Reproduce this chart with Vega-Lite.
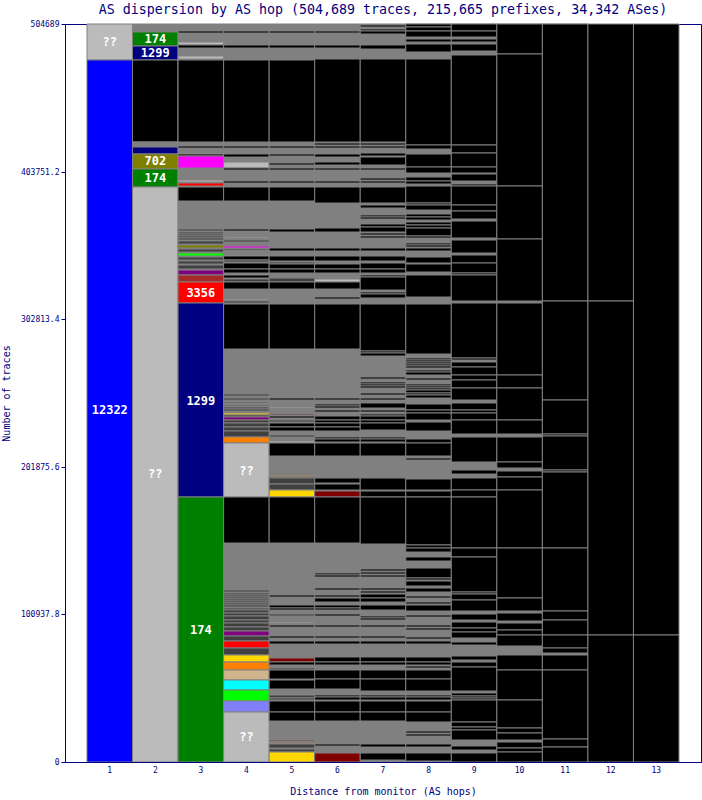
{"$schema":"https://vega.github.io/schema/vega-lite/v6.json","width":636,"height":738,"autosize":"none","padding":{"left":65,"top":24,"right":1,"bottom":38},"background":"white",
"title":{"text":"AS dispersion by AS hop (504,689 traces, 215,665 prefixes, 34,342 ASes)","font":"DejaVu Sans Mono","fontSize":13.3,"fontWeight":"normal","color":"#000080","anchor":"middle","offset":4},
"view":{"stroke":"#000080","strokeWidth":1},
"datasets":{"cells":[
{"hop":1,"group":"??","start":480168,"end":504689},{"hop":1,"group":"12322","start":0,"end":480168},
{"hop":2,"group":"other","start":499320,"end":504689},{"hop":2,"group":"174","start":489744,"end":499320},{"hop":2,"group":"1299","start":480168,"end":489744},{"hop":2,"group":"black","start":424080,"end":480168},{"hop":2,"group":"other","start":420660,"end":424080},{"hop":2,"group":"1299","start":415872,"end":420660},{"hop":2,"group":"702","start":405612,"end":415872},{"hop":2,"group":"174","start":393300,"end":405612},{"hop":2,"group":"??","start":0,"end":393300},
{"hop":3,"group":"other","start":0,"end":504689},{"hop":4,"group":"other","start":0,"end":504689},{"hop":5,"group":"other","start":0,"end":504689},{"hop":6,"group":"other","start":0,"end":504689},{"hop":7,"group":"other","start":0,"end":504689},{"hop":8,"group":"other","start":0,"end":504689},{"hop":9,"group":"other","start":0,"end":504689},{"hop":10,"group":"other","start":0,"end":504689},{"hop":11,"group":"other","start":0,"end":504689},
{"hop":3,"group":"black","start":498636,"end":500004},{"hop":3,"group":"??","start":490428,"end":492480},{"hop":3,"group":"black","start":488376,"end":490428},{"hop":3,"group":"??","start":480852,"end":482904},{"hop":3,"group":"black","start":424080,"end":480168},{"hop":3,"group":"black","start":419976,"end":421344},{"hop":3,"group":"??","start":415872,"end":416556},{"hop":3,"group":"black","start":414504,"end":415872},{"hop":3,"group":"magenta","start":406296,"end":414504},{"hop":3,"group":"??","start":396720,"end":398088},{"hop":3,"group":"3356","start":393984,"end":396036},{"hop":3,"group":"black","start":383724,"end":393300},
{"hop":3,"group":"dark","start":363204,"end":364572},{"hop":3,"group":"dark","start":361152,"end":362520},{"hop":3,"group":"dark","start":359784,"end":361152},{"hop":3,"group":"dark","start":358416,"end":359784},{"hop":3,"group":"dark","start":357048,"end":358416},{"hop":3,"group":"dark","start":354312,"end":356364},{"hop":3,"group":"702","start":351576,"end":353628},{"hop":3,"group":"dark","start":348840,"end":350892},{"hop":3,"group":"lime","start":346104,"end":348156},{"hop":3,"group":"dark","start":343368,"end":345420},{"hop":3,"group":"dark","start":340632,"end":342684},{"hop":3,"group":"dark","start":337212,"end":339948},{"hop":3,"group":"purple","start":333108,"end":336528},{"hop":3,"group":"brown","start":328320,"end":333108},{"hop":3,"group":"3356","start":313956,"end":328320},{"hop":3,"group":"1299","start":181260,"end":313956},{"hop":3,"group":"174","start":0,"end":181260},
{"hop":4,"group":"black","start":498636,"end":500004},{"hop":4,"group":"black","start":488376,"end":490428},{"hop":4,"group":"black","start":424080,"end":480168},{"hop":4,"group":"black","start":419976,"end":421344},{"hop":4,"group":"black","start":413820,"end":415872},{"hop":4,"group":"??","start":406296,"end":410400},{"hop":4,"group":"black","start":404928,"end":406296},{"hop":4,"group":"black","start":396036,"end":397404},{"hop":4,"group":"black","start":383724,"end":393300},
{"hop":4,"group":"black","start":363204,"end":364572},{"hop":4,"group":"??","start":358416,"end":359100},{"hop":4,"group":"dark","start":355680,"end":357048},{"hop":4,"group":"magenta","start":351576,"end":352944},{"hop":4,"group":"black","start":350208,"end":350892},{"hop":4,"group":"??","start":346104,"end":346788},{"hop":4,"group":"black","start":343368,"end":346104},{"hop":4,"group":"dark","start":342000,"end":343368},{"hop":4,"group":"black","start":337212,"end":341316},{"hop":4,"group":"black","start":334476,"end":337212},{"hop":4,"group":"??","start":333108,"end":333792},{"hop":4,"group":"black","start":331056,"end":333108},{"hop":4,"group":"dark","start":328320,"end":330372},{"hop":4,"group":"black","start":323532,"end":328320},{"hop":4,"group":"??","start":316008,"end":316692},{"hop":4,"group":"dark","start":313956,"end":315324},{"hop":4,"group":"black","start":282492,"end":313272},
{"hop":4,"group":"dark","start":250344,"end":251712},{"hop":4,"group":"dark","start":247608,"end":248976},{"hop":4,"group":"dark","start":245556,"end":246240},{"hop":4,"group":"dark","start":243504,"end":244188},{"hop":4,"group":"dark","start":241452,"end":242820},{"hop":4,"group":"dark","start":240084,"end":241452},{"hop":4,"group":"gold","start":237348,"end":238716},{"hop":4,"group":"dark","start":235980,"end":237348},{"hop":4,"group":"purple","start":233928,"end":235980},{"hop":4,"group":"dark","start":231876,"end":233928},{"hop":4,"group":"dark","start":229140,"end":231876},{"hop":4,"group":"dark","start":226404,"end":229140},{"hop":4,"group":"dark","start":222300,"end":226404},{"hop":4,"group":"orange","start":218196,"end":222300},{"hop":4,"group":"??","start":181260,"end":218196},{"hop":4,"group":"black","start":149796,"end":181260},
{"hop":4,"group":"dark","start":116280,"end":117648},{"hop":4,"group":"dark","start":114228,"end":115596},{"hop":4,"group":"dark","start":112860,"end":114228},{"hop":4,"group":"dark","start":111492,"end":112860},{"hop":4,"group":"dark","start":110124,"end":111492},{"hop":4,"group":"dark","start":108756,"end":110124},{"hop":4,"group":"dark","start":107388,"end":108756},{"hop":4,"group":"dark","start":106020,"end":107388},{"hop":4,"group":"dark","start":103968,"end":105336},{"hop":4,"group":"dark","start":101916,"end":103968},{"hop":4,"group":"dark","start":99864,"end":101916},{"hop":4,"group":"dark","start":97128,"end":99864},{"hop":4,"group":"dark","start":95076,"end":97128},{"hop":4,"group":"dark","start":92340,"end":95076},{"hop":4,"group":"dark","start":89604,"end":92340},{"hop":4,"group":"purple","start":86184,"end":89604},{"hop":4,"group":"dark","start":82764,"end":86184},{"hop":4,"group":"3356","start":77976,"end":82764},{"hop":4,"group":"dark","start":73188,"end":77976},{"hop":4,"group":"gold","start":68400,"end":73188},{"hop":4,"group":"orange","start":62928,"end":68400},{"hop":4,"group":"tan","start":56088,"end":62928},{"hop":4,"group":"cyan","start":49248,"end":56088},{"hop":4,"group":"lime","start":41724,"end":49248},{"hop":4,"group":"periwinkle","start":34200,"end":41724},{"hop":4,"group":"??","start":0,"end":34200},
{"hop":5,"group":"black","start":498636,"end":500004},{"hop":5,"group":"black","start":488376,"end":490428},{"hop":5,"group":"black","start":424080,"end":480168},{"hop":5,"group":"black","start":419976,"end":421344},{"hop":5,"group":"black","start":414504,"end":415872},{"hop":5,"group":"black","start":408348,"end":409716},{"hop":5,"group":"black","start":404928,"end":406296},{"hop":5,"group":"black","start":396036,"end":397404},{"hop":5,"group":"black","start":383724,"end":393300},
{"hop":5,"group":"black","start":362520,"end":364572},{"hop":5,"group":"black","start":349524,"end":351576},{"hop":5,"group":"black","start":342684,"end":346104},{"hop":5,"group":"dark","start":340632,"end":342000},{"hop":5,"group":"black","start":337212,"end":340632},{"hop":5,"group":"black","start":334476,"end":337212},{"hop":5,"group":"dark","start":328320,"end":331056},{"hop":5,"group":"black","start":323532,"end":328320},{"hop":5,"group":"black","start":282492,"end":313272},
{"hop":5,"group":"black","start":247608,"end":248976},{"hop":5,"group":"??","start":242136,"end":242820},{"hop":5,"group":"maroon","start":237348,"end":238032},{"hop":5,"group":"black","start":235296,"end":236664},{"hop":5,"group":"dark","start":232560,"end":233928},{"hop":5,"group":"black","start":229140,"end":231876},{"hop":5,"group":"black","start":226404,"end":229140},{"hop":5,"group":"dark","start":222300,"end":223668},{"hop":5,"group":"??","start":218196,"end":219564},{"hop":5,"group":"black","start":209304,"end":218196},{"hop":5,"group":"orange","start":195624,"end":196308},{"hop":5,"group":"dark","start":194256,"end":194940},{"hop":5,"group":"dark","start":190152,"end":194256},{"hop":5,"group":"dark","start":186048,"end":190152},{"hop":5,"group":"gold","start":181260,"end":186048},{"hop":5,"group":"black","start":149796,"end":181260},
{"hop":5,"group":"black","start":112860,"end":114228},{"hop":5,"group":"black","start":105336,"end":107388},{"hop":5,"group":"black","start":103968,"end":105336},{"hop":5,"group":"dark","start":99864,"end":101232},{"hop":5,"group":"??","start":95076,"end":95760},{"hop":5,"group":"black","start":92340,"end":93708},{"hop":5,"group":"black","start":84816,"end":86184},{"hop":5,"group":"black","start":80712,"end":82764},{"hop":5,"group":"maroon","start":68400,"end":71136},{"hop":5,"group":"black","start":66348,"end":68400},{"hop":5,"group":"dark","start":62928,"end":64296},{"hop":5,"group":"black","start":56772,"end":62928},{"hop":5,"group":"black","start":49932,"end":56088},{"hop":5,"group":"??","start":45828,"end":46512},{"hop":5,"group":"dark","start":43776,"end":45828},{"hop":5,"group":"dark","start":42408,"end":43776},{"hop":5,"group":"black","start":34200,"end":41724},{"hop":5,"group":"black","start":28044,"end":34200},{"hop":5,"group":"maroon","start":14364,"end":15048},{"hop":5,"group":"orange","start":12312,"end":12996},{"hop":5,"group":"dark","start":9576,"end":12312},{"hop":5,"group":"dark","start":6840,"end":8892},{"hop":5,"group":"gold","start":0,"end":6840},
{"hop":6,"group":"black","start":498636,"end":500004},{"hop":6,"group":"black","start":488376,"end":490428},{"hop":6,"group":"black","start":424080,"end":480852},{"hop":6,"group":"black","start":422028,"end":423396},{"hop":6,"group":"black","start":419976,"end":421344},{"hop":6,"group":"black","start":413820,"end":415872},{"hop":6,"group":"black","start":408348,"end":410400},{"hop":6,"group":"black","start":404928,"end":406296},{"hop":6,"group":"black","start":396036,"end":397404},{"hop":6,"group":"black","start":382356,"end":393300},
{"hop":6,"group":"black","start":362520,"end":365256},{"hop":6,"group":"black","start":349524,"end":351576},{"hop":6,"group":"black","start":342684,"end":346104},{"hop":6,"group":"black","start":337212,"end":340632},{"hop":6,"group":"black","start":334476,"end":337212},{"hop":6,"group":"??","start":328320,"end":330372},{"hop":6,"group":"black","start":323532,"end":328320},{"hop":6,"group":"black","start":316692,"end":318060},{"hop":6,"group":"black","start":282492,"end":313272},
{"hop":6,"group":"black","start":247608,"end":248976},{"hop":6,"group":"black","start":243504,"end":244872},{"hop":6,"group":"black","start":242136,"end":243504},{"hop":6,"group":"black","start":239400,"end":240768},{"hop":6,"group":"black","start":233928,"end":236664},{"hop":6,"group":"black","start":231876,"end":233928},{"hop":6,"group":"black","start":229140,"end":231876},{"hop":6,"group":"black","start":226404,"end":229140},{"hop":6,"group":"black","start":220932,"end":222300},{"hop":6,"group":"black","start":218880,"end":220932},{"hop":6,"group":"black","start":209304,"end":218196},{"hop":6,"group":"black","start":190836,"end":194256},{"hop":6,"group":"black","start":186048,"end":190152},{"hop":6,"group":"maroon","start":181260,"end":185364},{"hop":6,"group":"black","start":149796,"end":181260},
{"hop":6,"group":"black","start":127908,"end":129276},{"hop":6,"group":"black","start":126540,"end":127908},{"hop":6,"group":"black","start":117648,"end":119016},{"hop":6,"group":"black","start":112860,"end":114228},{"hop":6,"group":"black","start":109440,"end":112176},{"hop":6,"group":"black","start":105336,"end":107388},{"hop":6,"group":"black","start":103968,"end":105336},{"hop":6,"group":"black","start":99864,"end":101232},{"hop":6,"group":"black","start":92340,"end":93708},{"hop":6,"group":"black","start":84816,"end":86184},{"hop":6,"group":"black","start":80712,"end":82764},{"hop":6,"group":"black","start":68400,"end":71820},{"hop":6,"group":"black","start":66348,"end":68400},{"hop":6,"group":"black","start":56772,"end":62928},{"hop":6,"group":"black","start":49932,"end":56772},{"hop":6,"group":"black","start":44460,"end":45828},{"hop":6,"group":"black","start":42408,"end":44460},{"hop":6,"group":"black","start":34200,"end":41724},{"hop":6,"group":"black","start":28044,"end":34200},{"hop":6,"group":"black","start":10944,"end":12312},{"hop":6,"group":"maroon","start":0,"end":6156},
{"hop":7,"group":"black","start":502740,"end":504108},{"hop":7,"group":"black","start":500004,"end":501372},{"hop":7,"group":"black","start":497952,"end":500004},{"hop":7,"group":"black","start":487692,"end":490428},{"hop":7,"group":"black","start":424080,"end":480852},{"hop":7,"group":"black","start":422028,"end":423396},{"hop":7,"group":"black","start":419976,"end":421344},{"hop":7,"group":"black","start":414504,"end":416556},{"hop":7,"group":"black","start":408348,"end":413820},{"hop":7,"group":"black","start":404928,"end":406296},{"hop":7,"group":"black","start":398088,"end":399456},{"hop":7,"group":"black","start":396036,"end":397404},{"hop":7,"group":"black","start":382356,"end":393300},
{"hop":7,"group":"black","start":378936,"end":380988},{"hop":7,"group":"black","start":372780,"end":374148},{"hop":7,"group":"black","start":371412,"end":372780},{"hop":7,"group":"black","start":365940,"end":367992},{"hop":7,"group":"black","start":362520,"end":365940},{"hop":7,"group":"black","start":360468,"end":361836},{"hop":7,"group":"black","start":358416,"end":359784},{"hop":7,"group":"black","start":349524,"end":351576},{"hop":7,"group":"black","start":342684,"end":346104},{"hop":7,"group":"black","start":337212,"end":341316},{"hop":7,"group":"black","start":334476,"end":337212},{"hop":7,"group":"black","start":331740,"end":333108},{"hop":7,"group":"black","start":322848,"end":331740},{"hop":7,"group":"black","start":320112,"end":321480},{"hop":7,"group":"black","start":317376,"end":320112},{"hop":7,"group":"black","start":281124,"end":313272},
{"hop":7,"group":"black","start":279756,"end":281124},{"hop":7,"group":"black","start":277704,"end":279756},{"hop":7,"group":"black","start":261972,"end":263340},{"hop":7,"group":"black","start":258552,"end":259920},{"hop":7,"group":"black","start":257184,"end":258552},{"hop":7,"group":"black","start":255816,"end":257184},{"hop":7,"group":"black","start":251028,"end":252396},{"hop":7,"group":"black","start":247608,"end":248976},{"hop":7,"group":"black","start":242136,"end":245556},{"hop":7,"group":"black","start":239400,"end":240768},{"hop":7,"group":"black","start":236664,"end":238032},{"hop":7,"group":"black","start":233928,"end":236664},{"hop":7,"group":"black","start":231876,"end":233928},{"hop":7,"group":"black","start":227088,"end":231876},{"hop":7,"group":"black","start":220932,"end":222300},{"hop":7,"group":"black","start":218880,"end":220932},{"hop":7,"group":"black","start":209304,"end":218196},{"hop":7,"group":"black","start":186048,"end":194256},{"hop":7,"group":"black","start":181260,"end":185364},{"hop":7,"group":"black","start":149112,"end":181260},
{"hop":7,"group":"black","start":130644,"end":132012},{"hop":7,"group":"black","start":128592,"end":129960},{"hop":7,"group":"black","start":126540,"end":127908},{"hop":7,"group":"black","start":117648,"end":119016},{"hop":7,"group":"black","start":115596,"end":116964},{"hop":7,"group":"black","start":112176,"end":114912},{"hop":7,"group":"black","start":109440,"end":112176},{"hop":7,"group":"black","start":103968,"end":107388},{"hop":7,"group":"black","start":98496,"end":99864},{"hop":7,"group":"black","start":97128,"end":98496},{"hop":7,"group":"black","start":92340,"end":93708},{"hop":7,"group":"black","start":84816,"end":86184},{"hop":7,"group":"black","start":80712,"end":82764},{"hop":7,"group":"black","start":68400,"end":71820},{"hop":7,"group":"black","start":66348,"end":68400},{"hop":7,"group":"black","start":56772,"end":62928},{"hop":7,"group":"black","start":48564,"end":56772},{"hop":7,"group":"black","start":44460,"end":45828},{"hop":7,"group":"black","start":42408,"end":44460},{"hop":7,"group":"black","start":34200,"end":41724},{"hop":7,"group":"black","start":28044,"end":34200},{"hop":7,"group":"black","start":10260,"end":12312},{"hop":7,"group":"black","start":1368,"end":6156},
{"hop":8,"group":"black","start":502740,"end":504689},{"hop":8,"group":"black","start":500004,"end":502740},{"hop":8,"group":"black","start":495900,"end":500004},{"hop":8,"group":"black","start":492480,"end":494532},{"hop":8,"group":"black","start":485640,"end":491112},{"hop":8,"group":"black","start":422028,"end":480852},{"hop":8,"group":"black","start":419292,"end":422028},{"hop":8,"group":"black","start":406980,"end":415872},{"hop":8,"group":"black","start":402876,"end":406980},{"hop":8,"group":"black","start":397404,"end":400140},{"hop":8,"group":"black","start":395352,"end":397404},{"hop":8,"group":"black","start":382356,"end":393984},{"hop":8,"group":"black","start":380988,"end":382356},{"hop":8,"group":"black","start":377568,"end":380988},{"hop":8,"group":"black","start":372780,"end":374832},{"hop":8,"group":"black","start":370728,"end":372780},{"hop":8,"group":"black","start":367308,"end":369360},{"hop":8,"group":"black","start":365256,"end":367308},{"hop":8,"group":"black","start":359784,"end":365256},{"hop":8,"group":"black","start":358416,"end":359784},{"hop":8,"group":"black","start":353628,"end":354996},{"hop":8,"group":"black","start":352260,"end":353628},{"hop":8,"group":"black","start":349524,"end":351576},{"hop":8,"group":"black","start":341316,"end":345420},{"hop":8,"group":"black","start":335160,"end":340632},{"hop":8,"group":"black","start":318060,"end":333108},{"hop":8,"group":"black","start":279072,"end":313272},
{"hop":8,"group":"black","start":274968,"end":276336},{"hop":8,"group":"black","start":273600,"end":274968},{"hop":8,"group":"black","start":272232,"end":273600},{"hop":8,"group":"black","start":270864,"end":272232},{"hop":8,"group":"black","start":269496,"end":270864},{"hop":8,"group":"black","start":266760,"end":268128},{"hop":8,"group":"black","start":264708,"end":266760},{"hop":8,"group":"black","start":261288,"end":262656},{"hop":8,"group":"black","start":257184,"end":258552},{"hop":8,"group":"black","start":255816,"end":257184},{"hop":8,"group":"black","start":254448,"end":255816},{"hop":8,"group":"black","start":252396,"end":254448},{"hop":8,"group":"black","start":251028,"end":252396},{"hop":8,"group":"black","start":248976,"end":251028},{"hop":8,"group":"black","start":240768,"end":244872},{"hop":8,"group":"black","start":238716,"end":240768},{"hop":8,"group":"black","start":233928,"end":238716},{"hop":8,"group":"black","start":226404,"end":232560},{"hop":8,"group":"black","start":218196,"end":220932},{"hop":8,"group":"black","start":209304,"end":218196},{"hop":8,"group":"black","start":206568,"end":207936},{"hop":8,"group":"black","start":186048,"end":193572},{"hop":8,"group":"black","start":181260,"end":185364},{"hop":8,"group":"black","start":148428,"end":181260},
{"hop":8,"group":"black","start":146376,"end":148428},{"hop":8,"group":"black","start":143640,"end":146376},{"hop":8,"group":"black","start":137484,"end":140220},{"hop":8,"group":"black","start":125856,"end":132696},{"hop":8,"group":"black","start":124488,"end":125856},{"hop":8,"group":"black","start":120384,"end":123804},{"hop":8,"group":"black","start":116280,"end":119016},{"hop":8,"group":"black","start":112176,"end":113544},{"hop":8,"group":"black","start":108072,"end":109440},{"hop":8,"group":"black","start":103284,"end":107388},{"hop":8,"group":"black","start":99180,"end":100548},{"hop":8,"group":"black","start":92340,"end":93708},{"hop":8,"group":"black","start":90288,"end":91656},{"hop":8,"group":"black","start":84132,"end":85500},{"hop":8,"group":"black","start":80712,"end":82764},{"hop":8,"group":"black","start":68400,"end":71820},{"hop":8,"group":"black","start":66348,"end":68400},{"hop":8,"group":"black","start":64296,"end":65664},{"hop":8,"group":"black","start":56772,"end":62928},{"hop":8,"group":"black","start":48564,"end":56772},{"hop":8,"group":"black","start":44460,"end":45828},{"hop":8,"group":"black","start":42408,"end":44460},{"hop":8,"group":"black","start":34200,"end":41724},{"hop":8,"group":"black","start":27360,"end":34200},{"hop":8,"group":"black","start":19836,"end":21204},{"hop":8,"group":"black","start":17784,"end":19152},{"hop":8,"group":"black","start":10260,"end":12312},{"hop":8,"group":"black","start":684,"end":6156},
{"hop":9,"group":"black","start":500004,"end":504689},{"hop":9,"group":"black","start":495900,"end":500004},{"hop":9,"group":"black","start":492480,"end":494532},{"hop":9,"group":"black","start":486324,"end":491112},{"hop":9,"group":"black","start":422028,"end":483588},{"hop":9,"group":"black","start":416556,"end":422028},{"hop":9,"group":"black","start":406980,"end":416556},{"hop":9,"group":"black","start":402876,"end":406980},{"hop":9,"group":"black","start":397404,"end":402192},{"hop":9,"group":"black","start":393984,"end":395352},{"hop":9,"group":"black","start":380988,"end":393984},{"hop":9,"group":"black","start":376884,"end":380988},{"hop":9,"group":"black","start":371412,"end":376884},{"hop":9,"group":"black","start":358416,"end":370044},{"hop":9,"group":"black","start":348156,"end":357048},{"hop":9,"group":"black","start":341316,"end":346788},{"hop":9,"group":"black","start":334476,"end":341316},{"hop":9,"group":"black","start":333108,"end":334476},{"hop":9,"group":"black","start":315324,"end":333108},{"hop":9,"group":"black","start":276336,"end":313956},{"hop":9,"group":"black","start":274968,"end":276336},{"hop":9,"group":"black","start":270180,"end":273600},{"hop":9,"group":"black","start":264708,"end":270180},{"hop":9,"group":"black","start":261288,"end":264708},{"hop":9,"group":"black","start":255816,"end":261288},{"hop":9,"group":"black","start":247608,"end":255816},{"hop":9,"group":"black","start":240768,"end":245556},{"hop":9,"group":"black","start":238716,"end":240768},{"hop":9,"group":"black","start":233928,"end":238716},{"hop":9,"group":"black","start":224352,"end":233928},{"hop":9,"group":"black","start":205200,"end":222300},{"hop":9,"group":"black","start":196992,"end":199728},{"hop":9,"group":"black","start":186048,"end":194256},{"hop":9,"group":"black","start":181260,"end":186048},{"hop":9,"group":"black","start":146376,"end":181260},{"hop":9,"group":"black","start":140220,"end":146376},{"hop":9,"group":"black","start":116280,"end":140220},{"hop":9,"group":"black","start":114912,"end":116280},{"hop":9,"group":"black","start":110808,"end":114912},{"hop":9,"group":"black","start":103284,"end":110808},{"hop":9,"group":"black","start":97128,"end":101232},{"hop":9,"group":"black","start":91656,"end":95760},{"hop":9,"group":"black","start":88920,"end":91656},{"hop":9,"group":"black","start":84816,"end":88920},{"hop":9,"group":"black","start":80028,"end":82080},{"hop":9,"group":"black","start":69768,"end":72504},{"hop":9,"group":"black","start":64980,"end":68400},{"hop":9,"group":"black","start":48564,"end":64980},{"hop":9,"group":"black","start":45144,"end":47196},{"hop":9,"group":"black","start":43776,"end":45144},{"hop":9,"group":"black","start":42408,"end":43776},{"hop":9,"group":"black","start":27360,"end":42408},{"hop":9,"group":"black","start":23940,"end":27360},{"hop":9,"group":"black","start":21888,"end":23940},{"hop":9,"group":"black","start":15048,"end":21888},{"hop":9,"group":"black","start":8208,"end":10944},{"hop":9,"group":"black","start":0,"end":6156},
{"hop":10,"group":"black","start":484272,"end":504689},{"hop":10,"group":"black","start":393984,"end":484272},{"hop":10,"group":"black","start":357732,"end":393984},{"hop":10,"group":"black","start":315324,"end":357732},{"hop":10,"group":"black","start":264708,"end":313956},{"hop":10,"group":"black","start":255816,"end":264708},{"hop":10,"group":"black","start":233928,"end":255816},{"hop":10,"group":"black","start":224352,"end":233928},{"hop":10,"group":"black","start":205200,"end":222300},{"hop":10,"group":"black","start":201096,"end":205200},{"hop":10,"group":"black","start":194940,"end":199044},{"hop":10,"group":"black","start":186048,"end":194940},{"hop":10,"group":"black","start":146376,"end":186048},{"hop":10,"group":"black","start":112176,"end":146376},{"hop":10,"group":"black","start":103284,"end":112176},{"hop":10,"group":"black","start":96444,"end":101916},{"hop":10,"group":"black","start":90288,"end":95076},{"hop":10,"group":"black","start":86868,"end":90288},{"hop":10,"group":"black","start":79344,"end":86868},{"hop":10,"group":"black","start":62928,"end":73188},{"hop":10,"group":"black","start":42408,"end":62928},{"hop":10,"group":"black","start":23256,"end":42408},{"hop":10,"group":"black","start":19836,"end":23256},{"hop":10,"group":"black","start":15048,"end":19836},{"hop":10,"group":"black","start":9576,"end":13680},{"hop":10,"group":"black","start":6840,"end":9576},{"hop":10,"group":"black","start":0,"end":6840},
{"hop":11,"group":"black","start":315324,"end":504689},{"hop":11,"group":"black","start":247608,"end":315324},{"hop":11,"group":"black","start":224352,"end":247608},{"hop":11,"group":"black","start":222984,"end":224352},{"hop":11,"group":"black","start":199728,"end":222984},{"hop":11,"group":"black","start":198360,"end":199728},{"hop":11,"group":"black","start":146376,"end":198360},{"hop":11,"group":"black","start":103284,"end":146376},{"hop":11,"group":"black","start":97128,"end":103284},{"hop":11,"group":"black","start":86868,"end":97128},{"hop":11,"group":"black","start":77976,"end":86868},{"hop":11,"group":"black","start":74556,"end":77976},{"hop":11,"group":"black","start":62928,"end":73188},{"hop":11,"group":"black","start":15732,"end":62928},{"hop":11,"group":"black","start":10260,"end":15732},{"hop":11,"group":"black","start":0,"end":10260},
{"hop":12,"group":"black","start":315324,"end":504689},{"hop":12,"group":"black","start":86868,"end":315324},{"hop":12,"group":"black","start":0,"end":86868},
{"hop":13,"group":"black","start":86868,"end":504689},{"hop":13,"group":"black","start":0,"end":86868}
],
"labels":[
{"hop":1,"traces":492400,"label":"??"},{"hop":1,"traces":240700,"label":"12322"},{"hop":2,"traces":494500,"label":"174"},{"hop":2,"traces":485000,"label":"1299"},{"hop":2,"traces":410700,"label":"702"},{"hop":2,"traces":399500,"label":"174"},{"hop":2,"traces":196800,"label":"??"},{"hop":3,"traces":321000,"label":"3356"},{"hop":3,"traces":247200,"label":"1299"},{"hop":3,"traces":90300,"label":"174"},{"hop":4,"traces":199300,"label":"??"},{"hop":4,"traces":17100,"label":"??"}
]},
"layer":[
{"data":{"name":"cells"},"mark":{"type":"rect","stroke":"#808080","strokeWidth":1},
"encoding":{
"x":{"field":"hop","type":"ordinal","sort":[1,2,3,4,5,6,7,8,9,10,11,12,13],"scale":{"paddingInner":0,"paddingOuter":0.483},"axis":{"title":"Distance from monitor (AS hops)","titleFont":"DejaVu Sans Mono","titleFontSize":10,"titleFontWeight":"normal","titleColor":"#000080","titlePadding":12,"labelFont":"DejaVu Sans Mono","labelFontSize":8,"labelColor":"#000080","labelAngle":0,"labelPadding":4,"ticks":false,"domainColor":"#000080","grid":false}},
"y":{"field":"start","type":"quantitative","scale":{"domain":[0,504689],"nice":false,"round":true},"axis":{"title":"Number of traces","titleFont":"DejaVu Sans Mono","titleFontSize":10,"titleFontWeight":"normal","titleColor":"#000080","titlePadding":9,"values":[0,100937.8,201875.6,302813.4,403751.2,504689],"labelExpr":"''+datum.value","labelFont":"DejaVu Sans Mono","labelFontSize":8,"labelColor":"#000080","labelPadding":2,"tickColor":"#000080","tickSize":4,"domainColor":"#000080","grid":false}},
"y2":{"field":"end"},
"fill":{"field":"group","type":"nominal","legend":null,"scale":{"domain":["other","black","dark","??","12322","174","1299","702","3356","magenta","lime","purple","brown","gold","orange","tan","cyan","periwinkle","maroon"],"range":["#808080","#000000","#404040","#BBBBBB","#0000FF","#008000","#000080","#808000","#FF0000","#FF00FF","#00FF00","#800080","#A52A2A","#FFD700","#FF8000","#D2B48C","#00FFFF","#8080FF","#800000"]}}
}},
{"data":{"name":"labels"},"mark":{"type":"text","font":"DejaVu Sans Mono","fontWeight":"bold","fontSize":12,"color":"white","align":"center","baseline":"middle"},
"encoding":{"x":{"field":"hop","type":"ordinal","sort":[1,2,3,4,5,6,7,8,9,10,11,12,13]},"y":{"field":"traces","type":"quantitative"},"text":{"field":"label"}}}
]}
